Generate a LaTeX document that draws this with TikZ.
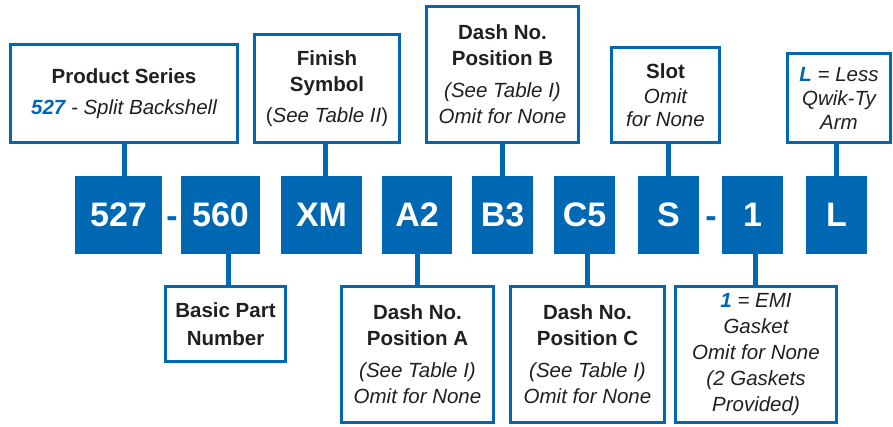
\documentclass[tikz,border=0pt]{standalone}
\usepackage{fontspec}
\setmainfont{Liberation Sans}
\usepackage{tikz}
\definecolor{partblue}{RGB}{0,104,179}
\definecolor{inkgray}{RGB}{35,31,32}
\newcommand{\keyhl}[1]{\textcolor{partblue}{\bfseries #1}}

\begin{document}
\begin{tikzpicture}[x=1pt,y=-1pt,
  codebox/.style={fill=partblue,text=white,font=\fontsize{34}{34}\selectfont\bfseries,minimum height=78pt,inner sep=0pt},
  dashsign/.style={text=partblue,font=\fontsize{34}{34}\selectfont\bfseries,inner sep=0pt,anchor=base},
  infobox/.style={draw=partblue,line width=3.3pt,fill=white,text=inkgray,align=center,inner sep=0pt,font=\fontsize{20.5}{26}\selectfont},
  link/.style={draw=partblue,line width=5pt}]
\useasboundingbox (0,0) rectangle (893,426);
% code boxes
\node[codebox,minimum width=87pt] (c527) at (118.5,215) {527};
\node[dashsign] (d1) at (172,227) {-};
\node[codebox,minimum width=79pt] (c560) at (220.5,215) {560};
\node[codebox,minimum width=81pt] (cXM) at (321.5,215) {XM};
\node[codebox,minimum width=70pt] (cA2) at (417,215) {A2};
\node[codebox,minimum width=61pt] (cB3) at (502.5,215) {B3};
\node[codebox,minimum width=61pt] (cC5) at (584.5,215) {C5};
\node[codebox,minimum width=61pt] (cS) at (668.5,215) {S};
\node[dashsign] (d2) at (711,227) {-};
\node[codebox,minimum width=61pt] (c1) at (752.5,215) {1};
\node[codebox,minimum width=61pt] (cL) at (836.5,215) {L};
% top boxes
\node[infobox,minimum width=227pt,minimum height=98pt] (series) at (124,93.5)
  {\bfseries Product Series\\[5pt]\itshape\keyhl{527} - Split Backshell};
\node[infobox,minimum width=145pt,minimum height=108pt] (finish) at (327,88.5)
  {\bfseries Finish\\\bfseries Symbol\\[5pt](\textit{See Table II})};
\node[infobox,minimum width=152pt,minimum height=136pt] (posB) at (502.5,74.5)
  {\bfseries Dash No.\\\bfseries Position B\\[6pt]\itshape (See Table I)\\\itshape Omit for None};
\node[infobox,minimum width=108pt,minimum height=95pt] (slot) at (665.5,95)
  {\bfseries Slot\\[-1pt]\itshape Omit\\[-3pt]\itshape for None};
\node[infobox,minimum width=103pt,minimum height=89pt] (less) at (839,98)
  {\itshape\keyhl{L} = Less\\[-2pt]\itshape Qwik-Ty\\[-2pt]\itshape Arm};
% bottom boxes
\node[infobox,minimum width=120pt,minimum height=75pt] (basic) at (225.5,324)
  {\bfseries Basic Part\\[2pt]\bfseries Number};
\node[infobox,minimum width=152pt,minimum height=136pt] (posA) at (417.5,354.5)
  {\bfseries Dash No.\\\bfseries Position A\\[6pt]\itshape (See Table I)\\\itshape Omit for None};
\node[infobox,minimum width=154pt,minimum height=136pt] (posC) at (587.5,354.5)
  {\bfseries Dash No.\\\bfseries Position C\\[6pt]\itshape (See Table I)\\\itshape Omit for None};
\node[infobox,minimum width=161pt,minimum height=136pt] (emi) at (756,354.5)
  {\itshape\keyhl{1} = EMI\\\itshape Gasket\\\itshape Omit for None\\\itshape (2 Gaskets\\\itshape Provided)};
% connectors
\draw[link] (series.south) -- (series.south |- c527.north);
\draw[link] ([xshift=-2pt]finish.south) -- ([xshift=-2pt]finish.south |- cXM.north);
\draw[link] (posB.south) -- (posB.south |- cB3.north);
\draw[link] (cS.north) -- (cS.north |- slot.south);
\draw[link] (cL.north) -- (cL.north |- less.south);
\draw[link] ([xshift=3pt]basic.north) -- ([xshift=3pt]basic.north |- c560.south);
\draw[link] (posA.north) -- (posA.north |- cA2.south);
\draw[link] (posC.north) -- (posC.north |- cC5.south);
\draw[link] ([xshift=-1pt]emi.north) -- ([xshift=-1pt]emi.north |- c1.south);
\end{tikzpicture}
\end{document}
